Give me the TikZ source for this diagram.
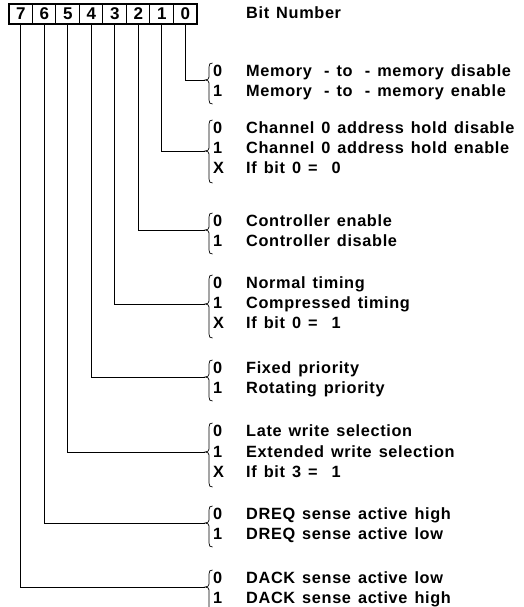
\documentclass[tikz,border=0pt]{standalone}
\usepackage{fontspec}
\newfontfamily\lab{Liberation Sans}[LetterSpace=4,WordSpace=1.35]
\newfontfamily\digf{Liberation Sans}
\tikzset{
  lbl/.style={anchor=base west, inner sep=0pt, font=\lab\bfseries\fontsize{16.3}{20}\selectfont},
  cell/.style={minimum width=23.5pt, minimum height=20pt, inner sep=0pt, font=\digf\bfseries\fontsize{17}{20}\selectfont},
  lead/.style={line width=0.8pt},
  brc/.style={line width=0.7pt},
}
\newcommand\mybrace[4]{% x, top, tip, bottom
  \draw[brc] ({#1+3.5},#2) .. controls ({#1+1},#2) and (#1,{#2+1}) .. (#1,{#2+4})
    -- (#1,{#3-3}) .. controls (#1,{#3-1}) and ({#1-1.5},#3) .. ({#1-4},#3)
    .. controls ({#1-1.5},#3) and (#1,{#3+1}) .. (#1,{#3+3})
    -- (#1,{#4-4}) .. controls (#1,{#4-1}) and ({#1+1},#4) .. ({#1+3.5},#4);}
\begin{document}
\begin{tikzpicture}[x=1pt,y=-1pt]
\useasboundingbox (0,0) rectangle (523,607);
% register
\foreach \b [count=\i from 0] in {7,6,5,4,3,2,1,0}{
  \node[cell] (c\b) at ({9+23.5*\i+11.75},14) {\b};
}
\foreach \b in {6,5,4,3,2,1,0}{ \draw[line width=0.8pt] (c\b.north west) -- (c\b.south west); }
\draw[line width=2.2pt] (c7.north west) rectangle (c0.south east);
\node[lbl] (title) at (246,19) {Bit Number};
% rows
\def\dx{213}\def\tx{246}
\newcommand\row[4]{% name, y, digit, text
  \node[lbl] (#1d) at (\dx,{#2+6}) {#3};
  \node[lbl] (#1t) at (\tx,{#2+6}) {#4};}
% group 0
\row{a0}{71}{0}{Memory\hspace{0.75em}-\ to\hspace{0.75em}-\ memory disable}
\row{a1}{90}{1}{Memory\hspace{0.75em}-\ to\hspace{0.75em}-\ memory enable}
\mybrace{209}{63}{80}{104}
\coordinate (t0) at (205,80);
% group 1
\row{b0}{127}{0}{Channel 0 address hold disable}
\row{b1}{147}{1}{Channel 0 address hold enable}
\row{b2}{167}{X}{If bit 0 =\ \ 0}
\mybrace{209}{120}{151}{183}
\coordinate (t1) at (205,151);
% group 2
\row{c0r}{220}{0}{Controller enable}
\row{c1r}{240}{1}{Controller disable}
\mybrace{209}{213}{230}{254}
\coordinate (t2) at (205,230);
% group 3
\row{d0}{282}{0}{Normal timing}
\row{d1}{302}{1}{Compressed timing}
\row{d2}{322}{X}{If bit 0 =\ \ 1}
\mybrace{209}{275}{304}{338}
\coordinate (t3) at (205,304);
% group 4
\row{e0}{367}{0}{Fixed priority}
\row{e1}{387}{1}{Rotating priority}
\mybrace{209}{360}{377}{401}
\coordinate (t4) at (205,377);
% group 5
\row{f0}{430}{0}{Late write selection}
\row{f1}{451}{1}{Extended write selection}
\row{f2}{471}{X}{If bit 3 =\ \ 1}
\mybrace{209}{423}{452}{487}
\coordinate (t5) at (205,452);
% group 6
\row{g0}{513}{0}{DREQ sense active high}
\row{g1}{533}{1}{DREQ sense active low}
\mybrace{209}{506}{523}{547}
\coordinate (t6) at (205,523);
% group 7
\row{h0}{577}{0}{DACK sense active low}
\row{h1}{597}{1}{DACK sense active high}
\mybrace{209}{570}{587}{612}
\coordinate (t7) at (205,587);
% leaders
\foreach \b in {0,...,7}{ \draw[lead] (c\b.south) |- (t\b); }
\end{tikzpicture}
\end{document}
